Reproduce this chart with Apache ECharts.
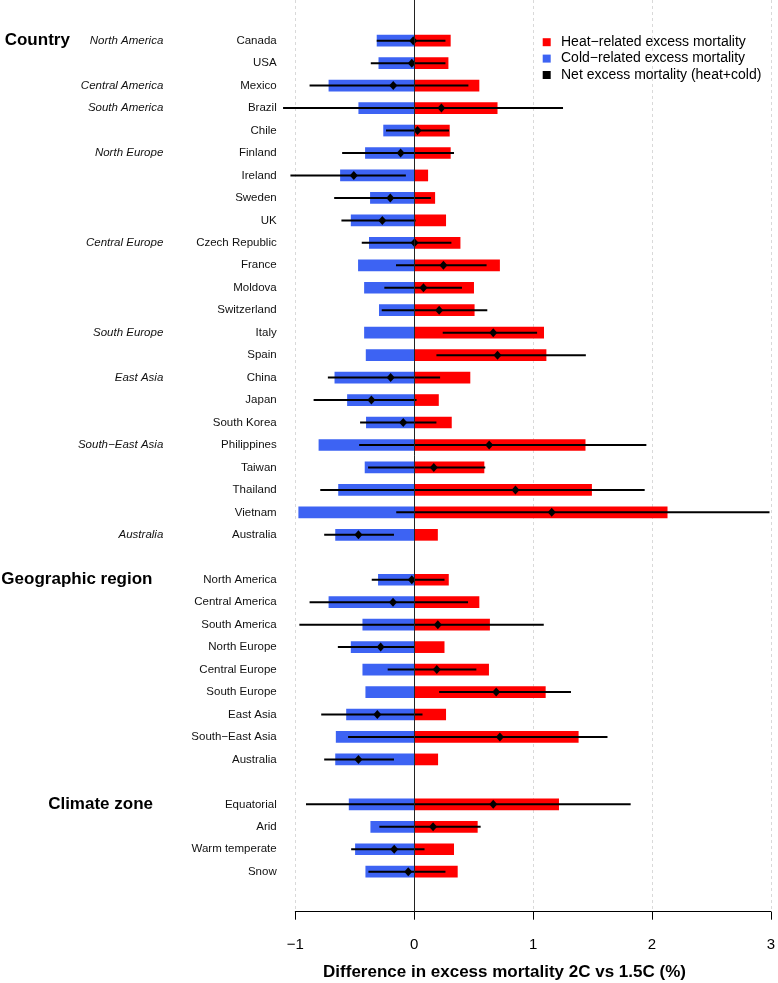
<!DOCTYPE html>
<html>
<head>
<meta charset="utf-8">
<script src="https://cdn.jsdelivr.net/npm/echarts@6/dist/echarts.min.js"></script>
<style>
html,body{margin:0;padding:0;background:#fff;}
#chart{width:778px;height:983px;}
</style>
</head>
<body>
<div id="chart"></div>
<script>
// ---- data ----
const rows = ['Canada','USA','Mexico','Brazil','Chile','Finland','Ireland','Sweden','UK','Czech Republic','France','Moldova','Switzerland','Italy','Spain','China','Japan','South Korea','Philippines','Taiwan','Thailand','Vietnam','Australia','',
  'North America','Central America','South America','North Europe','Central Europe','South Europe','East Asia','South\u2212East Asia','Australia','',
  'Equatorial','Arid','Warm temperate','Snow'];
const groups = ['North America','','Central America','South America','','North Europe','','','','Central Europe','','','','South Europe','','East Asia','','','South\u2212East Asia','','','','Australia','',
  '','','','','','','','','','',
  '','','',''];
const sections = ['Country','Geographic region','Climate zone'];
const sectionRows = [0, 24, 34];
const heat = [0.307,0.288,0.548,0.701,0.299,0.307,0.117,0.176,0.268,0.389,0.721,0.503,0.508,1.092,1.112,0.472,0.207,0.316,1.441,0.590,1.495,2.131,0.199,null,
  0.291,0.548,0.637,0.255,0.629,1.106,0.268,1.383,0.201,null,
  1.218,0.534,0.335,0.366];
const cold = [-0.315,-0.300,-0.720,-0.469,-0.260,-0.413,-0.623,-0.371,-0.533,-0.380,-0.472,-0.421,-0.296,-0.421,-0.407,-0.670,-0.564,-0.405,-0.804,-0.416,-0.639,-0.974,-0.664,null,
  -0.304,-0.720,-0.435,-0.533,-0.435,-0.410,-0.572,-0.659,-0.664,null,
  -0.550,-0.368,-0.497,-0.410];
const net = [-0.008,-0.020,-0.176,0.229,0.028,-0.114,-0.508,-0.201,-0.268,0.003,0.246,0.078,0.210,0.665,0.701,-0.198,-0.360,-0.092,0.631,0.165,0.852,1.157,-0.469,null,
  -0.020,-0.178,0.199,-0.282,0.190,0.690,-0.310,0.721,-0.469,null,
  0.665,0.159,-0.168,-0.050];
const netLow = [-0.315,-0.365,-0.880,-1.103,-0.237,-0.606,-1.041,-0.673,-0.612,-0.441,-0.153,-0.251,-0.273,0.240,0.187,-0.726,-0.846,-0.455,-0.463,-0.388,-0.790,-0.151,-0.757,null,
  -0.357,-0.880,-0.966,-0.642,-0.223,0.210,-0.782,-0.556,-0.757,null,
  -0.910,-0.293,-0.530,-0.385];
const netHigh = [0.263,0.263,0.456,1.252,0.293,0.335,-0.070,0.140,0.012,0.313,0.609,0.402,0.615,1.034,1.444,0.218,0.020,0.187,1.953,0.598,1.939,2.989,-0.170,null,
  0.255,0.453,1.090,0.003,0.523,1.319,0.070,1.626,-0.170,null,
  1.821,0.559,0.087,0.263];
const xTicks = [-1, 0, 1, 2, 3];
const seriesNames = ['Heat\u2212related excess mortality','Cold\u2212related excess mortality','Net excess mortality (heat+cold)'];
const xTitle = 'Difference in excess mortality 2C vs 1.5C (%)';

// ---- styles ----
const FONT = '"Liberation Sans", Arial, Helvetica, sans-serif';
const RED = '#ff0000', BLUE = '#3d63f3', BLACK = '#000000';
const BAR_H = 11.7;
const sectionStyle = [{x: 4.7, align: 'left'}, {x: 152.5, align: 'right'}, {x: 153, align: 'right'}];
const sectionFont = [17, 17, 17];

function spanData(a, b) {
  const out = [];
  for (let i = 0; i < rows.length; i++) {
    if (a[i] == null || b[i] == null) continue;
    out.push([a[i], b[i], i]);
  }
  return out;
}
const zeros = rows.map(() => 0);

function barRender(color) {
  return function (params, api) {
    const a = api.coord([api.value(0), api.value(2)]);
    const b = api.coord([api.value(1), api.value(2)]);
    return {
      type: 'rect',
      shape: {x: Math.min(a[0], b[0]), y: a[1] - BAR_H / 2, width: Math.abs(b[0] - a[0]), height: BAR_H},
      style: {fill: color}
    };
  };
}

const chart = echarts.init(document.getElementById('chart'), null, {renderer: 'canvas'});
const option = {
  animation: false,
  backgroundColor: '#ffffff',
  textStyle: {fontFamily: FONT},
  grid: {left: 295.3, right: 5.3, top: 0, bottom: 71.3, containLabel: false},
  xAxis: {
    type: 'value', min: -1, max: 3, interval: 1,
    axisLine: {show: true, onZero: false, lineStyle: {color: '#000', width: 1}},
    axisTick: {show: true, length: 8, lineStyle: {color: '#000', width: 1}},
    axisLabel: {color: '#000', fontSize: 15, margin: 26, fontFamily: FONT,
      formatter: v => String(v).replace('-', '\u2212')},
    splitLine: {show: true, lineStyle: {color: '#d9d9d9', type: [3, 3], width: 1}}
  },
  yAxis: {
    type: 'value', min: -1.812, max: 38.78, inverse: true, show: false,
    splitLine: {show: false}
  },
  legend: {
    orient: 'vertical', left: 542.7, top: 35.2, padding: 0,
    itemWidth: 8, itemHeight: 8, itemGap: 2.4,
    textStyle: {color: '#000', fontSize: 14, fontFamily: FONT, padding: [0, 0, 0, 5.3]},
    data: [
      {name: seriesNames[0], icon: 'rect', itemStyle: {color: RED, opacity: 1}},
      {name: seriesNames[1], icon: 'rect', itemStyle: {color: BLUE, opacity: 1}},
      {name: seriesNames[2], icon: 'rect', itemStyle: {color: BLACK, opacity: 1}}
    ],
    selectedMode: false
  },
  graphic: [{
    type: 'text', x: 504.5, y: 972,
    style: {text: xTitle, textAlign: 'center', textVerticalAlign: 'middle', fill: '#000', font: 'bold 17px ' + FONT}
  }],
  series: [
    {
      name: seriesNames[1], type: 'custom', itemStyle: {color: BLUE},
      renderItem: barRender(BLUE), encode: {x: [0, 1], y: 2},
      data: spanData(zeros, cold), z: 2
    },
    {
      name: seriesNames[0], type: 'custom', itemStyle: {color: RED},
      renderItem: barRender(RED), encode: {x: [0, 1], y: 2},
      data: spanData(zeros, heat), z: 2
    },
    {
      name: 'netRange', type: 'custom', z: 3,
      encode: {x: [0, 1], y: 2},
      data: spanData(netLow, netHigh),
      renderItem: function (params, api) {
        const a = api.coord([api.value(0), api.value(2)]);
        const b = api.coord([api.value(1), api.value(2)]);
        return {type: 'line', shape: {x1: a[0], y1: a[1], x2: b[0], y2: b[1]},
          style: {stroke: '#000', lineWidth: 2}};
      },
      markLine: {
        silent: true, symbol: 'none', animation: false,
        label: {show: false},
        lineStyle: {color: '#222', width: 1, type: 'solid'},
        data: [{xAxis: 0}]
      }
    },
    {
      name: seriesNames[2], type: 'scatter', z: 4,
      symbol: 'diamond', symbolSize: [8, 9],
      itemStyle: {color: BLACK, opacity: 1},
      data: net.map((v, i) => v == null ? null : [v, i]).filter(d => d)
    },
    {
      name: 'labels', type: 'custom', z: 5, silent: true,
      encode: {x: 0, y: 1},
      data: rows.map((n, i) => [-1, i]),
      renderItem: function (params, api) {
        const i = params.dataIndex;
        const p = api.coord([api.value(0), api.value(1)]);
        const children = [];
        if (rows[i]) {
          children.push({type: 'text', x: p[0] - 18.6, y: p[1],
            style: {text: rows[i], textAlign: 'right', textVerticalAlign: 'middle',
              font: '11.5px ' + FONT, fill: '#111'}});
        }
        if (groups[i]) {
          children.push({type: 'text', x: 163.3, y: p[1],
            style: {text: groups[i], textAlign: 'right', textVerticalAlign: 'middle',
              font: 'italic 11.5px ' + FONT, fill: '#111'}});
        }
        const s = sectionRows.indexOf(i);
        if (s >= 0) {
          children.push({type: 'text', x: sectionStyle[s].x, y: p[1],
            style: {text: sections[s], textAlign: sectionStyle[s].align, textVerticalAlign: 'middle',
              font: 'bold ' + sectionFont[s] + 'px ' + FONT, fill: '#000'}});
        }
        return {type: 'group', children: children};
      }
    }
  ]
};
chart.setOption(option);
</script>
</body>
</html>
